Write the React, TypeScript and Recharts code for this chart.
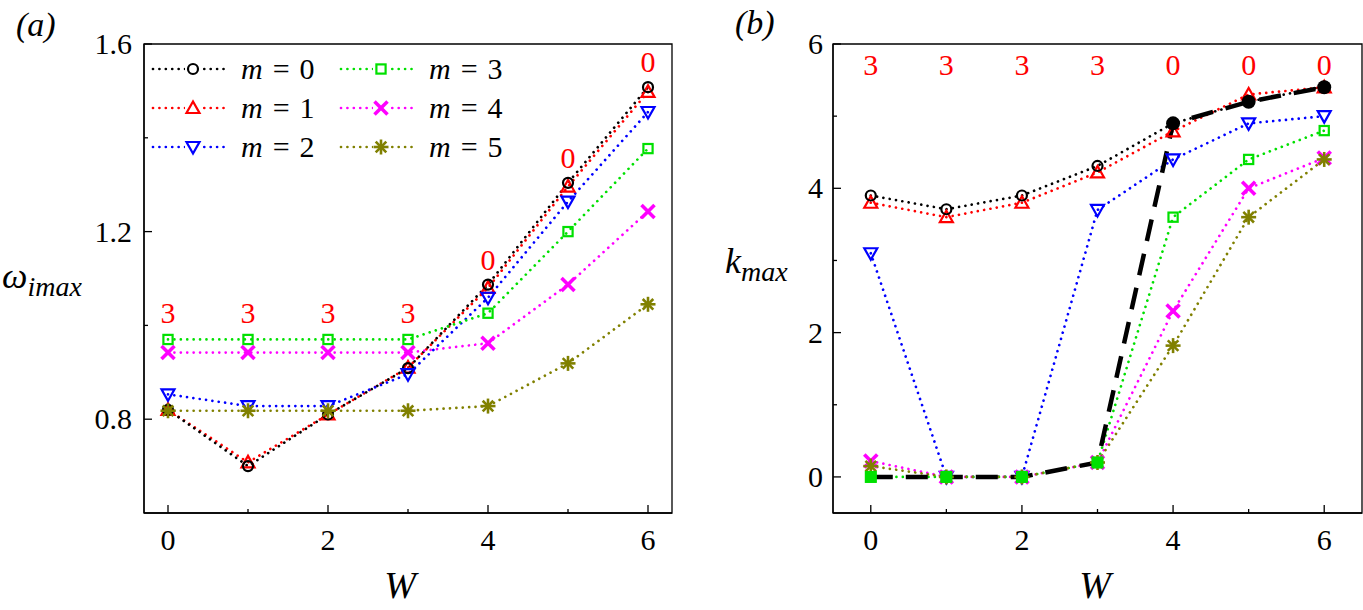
import React from 'react';
import { LineChart, Line, XAxis, YAxis, ReferenceArea } from 'recharts';

const FONT = 'Liberation Serif';
const CSS = `
.fig-root, .fig-root text, .fig-root tspan, .fig-root svg {
  font-family: 'Liberation Serif', 'Times New Roman', Tinos, serif !important;
}
`;

// ---------- data ----------
const W_VALUES = [0, 1, 2, 3, 4, 5, 6];

const OMEGA_M0 = [0.82, 0.70, 0.81, 0.909, 1.087, 1.304, 1.508];
const OMEGA_M1 = [0.82, 0.708, 0.81, 0.91, 1.08, 1.296, 1.498];
const OMEGA_M2 = [0.853, 0.828, 0.828, 0.896, 1.059, 1.264, 1.455];
const OMEGA_M3 = [0.97, 0.97, 0.97, 0.97, 1.026, 1.2, 1.377];
const OMEGA_M4 = [0.942, 0.942, 0.942, 0.942, 0.962, 1.087, 1.243];
const OMEGA_M5 = [0.818, 0.818, 0.818, 0.818, 0.828, 0.919, 1.045];

const K_M0 = [3.9, 3.71, 3.9, 4.31, 4.9, 5.2, 5.41];
const K_M1 = [3.8, 3.6, 3.8, 4.22, 4.79, 5.3, 5.4];
const K_M2 = [3.1, 0, 0, 3.7, 4.4, 4.9, 5.0];
const K_M3 = [0, 0, 0, 0.2, 3.6, 4.4, 4.8];
const K_M4 = [0.22, 0, 0, 0.2, 2.3, 4.0, 4.42];
const K_M5 = [0.15, 0, 0, 0.2, 1.82, 3.6, 4.4];
const K_DOMINANT = [0, 0, 0, 0.2, 4.9, 5.2, 5.4];

const DOMINANT_MODE = ['3', '3', '3', '3', '0', '0', '0'];
const OMEGA_LABEL_Y = [1.027, 1.027, 1.027, 1.027, 1.14, 1.356, 1.562];
const K_LABEL_Y = [5.71, 5.71, 5.71, 5.71, 5.71, 5.71, 5.71];

const X_TICKS = [0, 1, 2, 3, 4, 5, 6];
const X_TICK_LABELS = ['0', '', '2', '', '4', '', '6'];
const OMEGA_TICKS = [0.8, 1.0, 1.2, 1.4, 1.6];
const OMEGA_TICK_LABELS = ['0.8', '', '1.2', '', '1.6'];
const K_TICKS = [0, 1, 2, 3, 4, 5, 6];
const K_TICK_LABELS = ['0', '', '2', '', '4', '', '6'];

const MODE_NAMES = ['0', '1', '2', '3', '4', '5'];

// ---------- styles ----------
type MarkerType = 'circle' | 'up' | 'down' | 'square' | 'x' | 'star';
const SERIES: { key: string; color: string; marker: MarkerType }[] = [
  { key: 'm0', color: '#000000', marker: 'circle' },
  { key: 'm1', color: '#FF0000', marker: 'up' },
  { key: 'm2', color: '#0000FF', marker: 'down' },
  { key: 'm3', color: '#00E000', marker: 'square' },
  { key: 'm4', color: '#FF00FF', marker: 'x' },
  { key: 'm5', color: '#808000', marker: 'star' },
];
const DRAW_ORDER = [1, 0, 2, 3, 4, 5];

const dataA = W_VALUES.map((w, i) => ({
  W: w,
  m0: OMEGA_M0[i],
  m1: OMEGA_M1[i],
  m2: OMEGA_M2[i],
  m3: OMEGA_M3[i],
  m4: OMEGA_M4[i],
  m5: OMEGA_M5[i],
  labY: OMEGA_LABEL_Y[i],
  lab: DOMINANT_MODE[i],
}));

const dataB = W_VALUES.map((w, i) => ({
  W: w,
  m0: K_M0[i],
  m1: K_M1[i],
  m2: K_M2[i],
  m3: K_M3[i],
  m4: K_M4[i],
  m5: K_M5[i],
  dom: K_DOMINANT[i],
  labY: K_LABEL_Y[i],
  lab: DOMINANT_MODE[i],
}));

function Marker({ type, cx, cy, color, filled }: { type: MarkerType; cx: number; cy: number; color: string; filled?: boolean }) {
  const fill = filled ? color : 'none';
  switch (type) {
    case 'circle':
      return <circle cx={cx} cy={cy} r={5} fill={fill} stroke={color} strokeWidth={2.2} />;
    case 'up':
      return (
        <polygon
          points={`${cx},${cy - 6.5} ${cx - 6.5},${cy + 5} ${cx + 6.5},${cy + 5}`}
          fill={fill}
          stroke={color}
          strokeWidth={2.2}
        />
      );
    case 'down':
      return (
        <polygon
          points={`${cx},${cy + 6.5} ${cx - 6.5},${cy - 5} ${cx + 6.5},${cy - 5}`}
          fill={fill}
          stroke={color}
          strokeWidth={2.2}
        />
      );
    case 'square':
      return <rect x={cx - 4.6} y={cy - 4.6} width={9.2} height={9.2} fill={fill} stroke={color} strokeWidth={2.2} />;
    case 'x':
      return (
        <g stroke={color} strokeWidth={3.6}>
          <line x1={cx - 6.5} y1={cy - 6.5} x2={cx + 6.5} y2={cy + 6.5} />
          <line x1={cx - 6.5} y1={cy + 6.5} x2={cx + 6.5} y2={cy - 6.5} />
        </g>
      );
    case 'star':
      return (
        <g stroke={color} strokeWidth={2.6}>
          <line x1={cx - 7.5} y1={cy} x2={cx + 7.5} y2={cy} />
          <line x1={cx} y1={cy - 7.5} x2={cx} y2={cy + 7.5} />
          <line x1={cx - 5.3} y1={cy - 5.3} x2={cx + 5.3} y2={cy + 5.3} />
          <line x1={cx - 5.3} y1={cy + 5.3} x2={cx + 5.3} y2={cy - 5.3} />
        </g>
      );
  }
  return null;
}

const makeXTick = (ticks: number[], labels: string[]) => (props: any) => {
  const { x, y, payload } = props;
  const i = ticks.findIndex((t) => Math.abs(t - payload.value) < 1e-6);
  const label = i >= 0 ? labels[i] : '';
  const major = label !== '';
  return (
    <g>
      <line x1={x} x2={x} y1={y} y2={y - (major ? 8 : 4)} stroke="#000" strokeWidth={1.3} />
      {major && (
        <text x={x} y={y + 37} textAnchor="middle" fontFamily={FONT} fontSize={30} fill="#000">
          {label}
        </text>
      )}
    </g>
  );
};

const makeYTick = (ticks: number[], labels: string[], gap: number) => (props: any) => {
  const { x, y, payload } = props;
  const i = ticks.findIndex((t) => Math.abs(t - payload.value) < 1e-6);
  const label = i >= 0 ? labels[i] : '';
  const major = label !== '';
  return (
    <g>
      <line x1={x} x2={x + (major ? 8 : 4)} y1={y} y2={y} stroke="#000" strokeWidth={1.3} />
      {major && (
        <text x={x - gap} y={y + 10} textAnchor="end" fontFamily={FONT} fontSize={30} fill="#000">
          {label}
        </text>
      )}
    </g>
  );
};

const LINE_PROPS = {
  strokeWidth: 2.7,
  strokeDasharray: '0.01 6.4',
  strokeLinecap: 'round' as const,
  isAnimationActive: false,
  activeDot: false as const,
  type: 'linear' as const,
};

function seriesLines() {
  return DRAW_ORDER.map((si) => {
    const s = SERIES[si];
    return (
      <Line
        key={s.key}
        dataKey={s.key}
        stroke={s.color}
        {...LINE_PROPS}
        dot={(p: any) => <Marker key={`${s.key}-${p.index}`} type={s.marker} cx={p.cx} cy={p.cy} color={s.color} />}
      />
    );
  });
}

function labelLine() {
  return (
    <Line
      dataKey="labY"
      stroke="none"
      isAnimationActive={false}
      activeDot={false}
      legendType="none"
      dot={(p: any) => (
        <text
          key={`lab-${p.index}`}
          x={p.cx}
          y={p.cy + 10}
          textAnchor="middle"
          fontFamily={FONT}
          fontSize={30}
          fill="#FF0000"
        >
          {p.payload.lab}
        </text>
      )}
    />
  );
}

function LegendItem({ x, y, s, name }: { x: number; y: number; s: (typeof SERIES)[number]; name: string }) {
  return (
    <g>
      <line
        x1={x}
        x2={x + 76}
        y1={y}
        y2={y}
        stroke={s.color}
        strokeWidth={2.7}
        strokeDasharray="0.01 6.4"
        strokeLinecap="round"
      />
      <rect x={x + 32} y={y - 9} width={16} height={18} fill="#fff" />
      <Marker type={s.marker} cx={x + 40} cy={y} color={s.color} />
      <text x={x + 88} y={y + 10} fontFamily={FONT} fontSize={30} fill="#000">
        <tspan fontStyle="italic">m</tspan>
        <tspan dx={10}>=</tspan>
        <tspan dx={10}>{name}</tspan>
      </text>
    </g>
  );
}

export default function App() {
  const rows = [69, 108, 147];
  return (
    <div className="fig-root" style={{ position: 'absolute', left: 0, top: 0, width: 1363, height: 610, background: '#fff' }}>
      <style>{CSS}</style>
      <div style={{ position: 'absolute', left: 0, top: 0 }}>
        <LineChart width={700} height={610} data={dataA} margin={{ top: 44, right: 28, bottom: 0, left: 0 }}>
          <XAxis
            dataKey="W"
            type="number"
            domain={[-0.3, 6.3]}
            ticks={X_TICKS}
            allowDataOverflow
            height={97}
            tickSize={0}
            tickMargin={0}
            axisLine={{ stroke: '#000', strokeWidth: 1.3 }}
            tickLine={false}
            tick={makeXTick(X_TICKS, X_TICK_LABELS)}
            interval={0}
          />
          <YAxis
            type="number"
            domain={[0.6, 1.6]}
            ticks={OMEGA_TICKS}
            allowDataOverflow
            width={144}
            tickSize={0}
            tickMargin={0}
            axisLine={{ stroke: '#000', strokeWidth: 1.3 }}
            tickLine={false}
            tick={makeYTick(OMEGA_TICKS, OMEGA_TICK_LABELS, 12)}
            interval={0}
          />
          <ReferenceArea x1={-0.3} x2={6.3} y1={0.6} y2={1.6} fill="none" stroke="#000" strokeWidth={1.3} ifOverflow="visible" />
          {seriesLines()}
          {labelLine()}
        </LineChart>
      </div>
      <div style={{ position: 'absolute', left: 700, top: 0 }}>
        <LineChart width={663} height={610} data={dataB} margin={{ top: 44, right: 1, bottom: 0, left: 0 }}>
          <XAxis
            dataKey="W"
            type="number"
            domain={[-0.5, 6.5]}
            ticks={X_TICKS}
            allowDataOverflow
            height={97}
            tickSize={0}
            tickMargin={0}
            axisLine={{ stroke: '#000', strokeWidth: 1.3 }}
            tickLine={false}
            tick={makeXTick(X_TICKS, X_TICK_LABELS)}
            interval={0}
          />
          <YAxis
            type="number"
            domain={[-0.5, 6]}
            ticks={K_TICKS}
            allowDataOverflow
            width={133}
            tickSize={0}
            tickMargin={0}
            axisLine={{ stroke: '#000', strokeWidth: 1.3 }}
            tickLine={false}
            tick={makeYTick(K_TICKS, K_TICK_LABELS, 10)}
            interval={0}
          />
          <ReferenceArea x1={-0.5} x2={6.5} y1={-0.5} y2={6} fill="none" stroke="#000" strokeWidth={1.3} ifOverflow="visible" />
          {seriesLines()}
          <Line
            dataKey="dom"
            stroke="#000"
            strokeWidth={4.5}
            strokeDasharray="22 13"
            isAnimationActive={false}
            activeDot={false}
            type="linear"
            dot={(p: any) =>
              p.payload.lab === '3' ? (
                <rect key={`dom-${p.index}`} x={p.cx - 6} y={p.cy - 6} width={12} height={12} fill="#00E000" />
              ) : (
                <circle key={`dom-${p.index}`} cx={p.cx} cy={p.cy} r={7} fill="#000" />
              )
            }
          />
          {labelLine()}
        </LineChart>
      </div>
      <svg
        width={1363}
        height={610}
        style={{ position: 'absolute', left: 0, top: 0, pointerEvents: 'none' }}
      >
        <text x={16} y={36} fontFamily={FONT} fontSize={34} fill="#000" fontStyle="italic">
          (a)
        </text>
        <text x={735} y={34} fontFamily={FONT} fontSize={34} fill="#000" fontStyle="italic">
          (b)
        </text>
        <text x={2} y={288} fontFamily={FONT} fill="#000" fontStyle="italic">
          <tspan fontSize={36}>ω</tspan>
          <tspan fontSize={28} dy={8}>imax</tspan>
        </text>
        <text x={725} y={273} fontFamily={FONT} fill="#000" fontStyle="italic">
          <tspan fontSize={36}>k</tspan>
          <tspan fontSize={28} dy={8}>max</tspan>
        </text>
        <text x={400} y={598} textAnchor="middle" fontFamily={FONT} fontSize={38} fontStyle="italic" fill="#000">
          W
        </text>
        <text x={1095} y={598} textAnchor="middle" fontFamily={FONT} fontSize={38} fontStyle="italic" fill="#000">
          W
        </text>
        {SERIES.map((s, i) => (
          <LegendItem
            key={s.key}
            x={i < 3 ? 153 : 341}
            y={rows[i % 3]}
            s={s}
            name={MODE_NAMES[i]}
          />
        ))}
      </svg>
    </div>
  );
}
